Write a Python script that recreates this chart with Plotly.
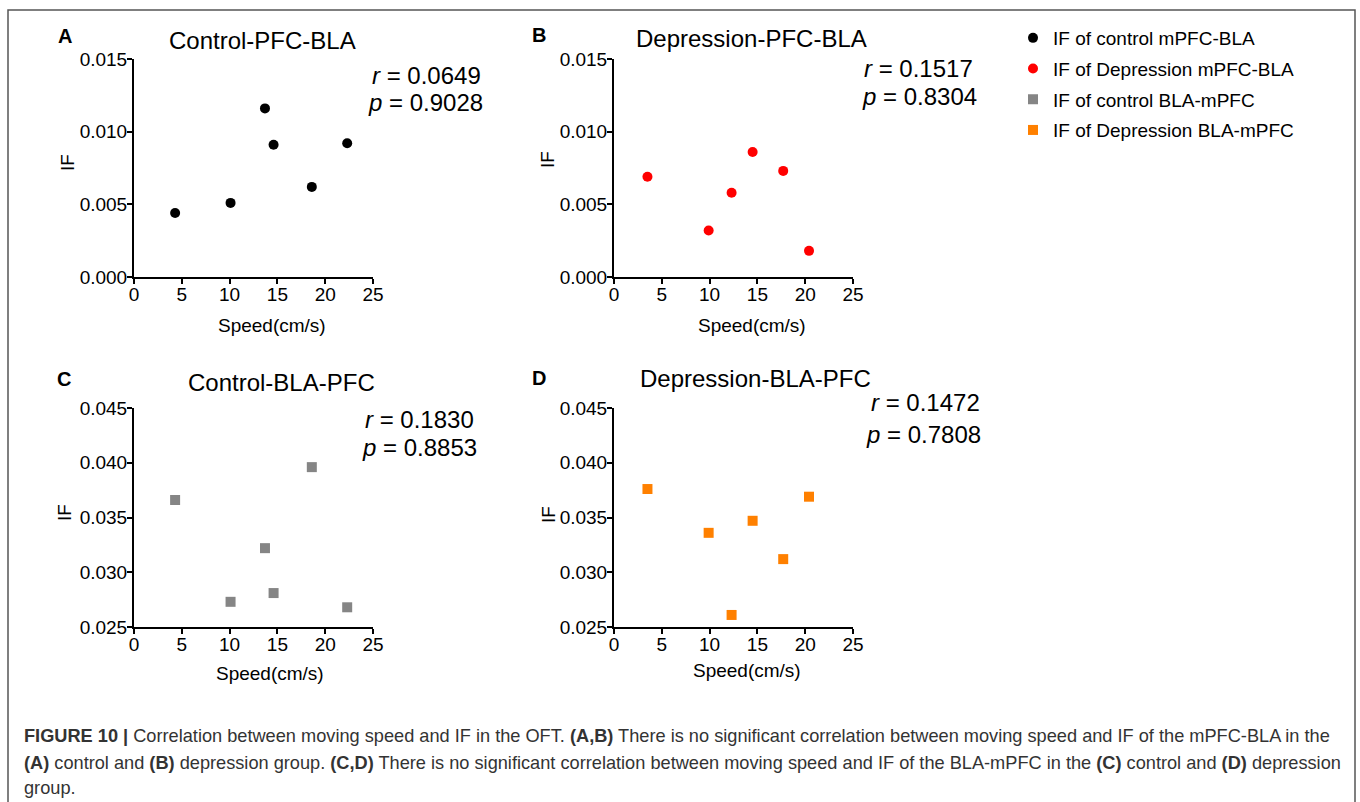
import plotly.graph_objects as go

# ---------------- data ----------------
ctrl_speed = [4.3, 10.1, 13.7, 14.6, 18.6, 22.3]
ctrl_pfc_bla = [0.0044, 0.0051, 0.0116, 0.0091, 0.0062, 0.0092]
ctrl_bla_pfc = [0.0366, 0.0273, 0.0322, 0.0281, 0.0396, 0.0268]

dep_speed = [3.5, 9.9, 12.3, 14.5, 17.7, 20.4]
dep_pfc_bla = [0.0069, 0.0032, 0.0058, 0.0086, 0.0073, 0.0018]
dep_bla_pfc = [0.0376, 0.0336, 0.0261, 0.0347, 0.0312, 0.0369]

panel_titles = ["Control-PFC-BLA", "Depression-PFC-BLA", "Control-BLA-PFC", "Depression-BLA-PFC"]
panel_letters = ["A", "B", "C", "D"]
r_values = ["0.0649", "0.1517", "0.1830", "0.1472"]
p_values = ["0.9028", "0.8304", "0.8853", "0.7808"]
legend_names = ["IF of control mPFC-BLA", "IF of Depression mPFC-BLA",
                "IF of control BLA-mPFC", "IF of Depression BLA-mPFC"]
x_ticks = [0, 5, 10, 15, 20, 25]
y_ticks_top = [0.000, 0.005, 0.010, 0.015]
y_ticks_bottom = [0.025, 0.030, 0.035, 0.040, 0.045]

caption_lines = [
    "<b>FIGURE 10 |</b> Correlation between moving speed and IF in the OFT. <b>(A,B)</b> There is no significant correlation between moving speed and IF of the mPFC-BLA in the",
    "<b>(A)</b> control and <b>(B)</b> depression group. <b>(C,D)</b> There is no significant correlation between moving speed and IF of the BLA-mPFC in the <b>(C)</b> control and <b>(D)</b> depression",
    "group.",
]

# ---------------- layout helpers ----------------
W, H = 1360, 802
FONT = "Liberation Sans, Arial, sans-serif"


def px(x):
    return x / W


def py(y):
    return 1 - y / H


colors = ["#000000", "#ff0000", "#858585", "#ff8000"]
symbols = ["circle", "circle", "square", "square"]

# panel pixel boxes: (left, right, top, bottom)
boxes = [(134, 373, 59, 277), (614, 853, 59, 277), (134, 373, 408, 627), (614, 853, 408, 627)]
xs = [ctrl_speed, dep_speed, ctrl_speed, dep_speed]
ys = [ctrl_pfc_bla, dep_pfc_bla, ctrl_bla_pfc, dep_bla_pfc]
yranges = [[0, 0.015], [0, 0.015], [0.025, 0.045], [0.025, 0.045]]
yticks = [y_ticks_top, y_ticks_top, y_ticks_bottom, y_ticks_bottom]

fig = go.Figure()
layout = dict(
    width=W, height=H, margin=dict(l=0, r=0, t=0, b=0, pad=0, autoexpand=False),
    paper_bgcolor="white", plot_bgcolor="white",
    font=dict(family=FONT, color="black", size=19),
    showlegend=True,
)

for i in range(4):
    sfx = "" if i == 0 else str(i + 1)
    l, r, t, b = boxes[i]
    axis_common = dict(showline=True, linecolor="black", linewidth=2, ticks="outside",
                       ticklen=5, tickwidth=2, tickcolor="black", showgrid=False,
                       zeroline=False, automargin=False,
                       tickfont=dict(size=19, family=FONT, color="black"))
    layout["xaxis" + sfx] = dict(domain=[px(l), px(r)], range=[0, 25], tickvals=x_ticks,
                                 anchor="y" + sfx, ticklabelstandoff=-6, **axis_common)
    layout["yaxis" + sfx] = dict(domain=[py(b), py(t)], range=yranges[i], tickvals=yticks[i],
                                 tickformat=".3f", anchor="x" + sfx, ticklabelstandoff=-4,
                                 **axis_common)
    fig.add_trace(go.Scatter(
        x=xs[i], y=ys[i], mode="markers", name=legend_names[i],
        legendgroup="g" + str(i),
        marker=dict(color=colors[i], size=10, symbol=symbols[i],
                    line=dict(width=0)),
        xaxis="x" + sfx, yaxis="y" + sfx, cliponaxis=False,
    ))

layout["legend"] = dict(x=px(1013), y=py(19), xanchor="left", yanchor="top",
                        font=dict(size=19, family=FONT, color="black"),
                        tracegroupgap=3, bgcolor="rgba(0,0,0,0)", traceorder="grouped")

ann = []
# positions (pixels)
letter_pos = [(65, 36), (539, 35), (64, 379), (539, 378)]
title_pos = [(262, 40), (751, 38), (281, 383), (755, 378)]
r_pos = [(483, 75), (975, 68), (476, 419), (982, 403)]
p_pos = [(485, 103), (979, 97), (479, 448), (983, 434)]
xt_pos = [(272, 325), (752, 325), (270, 673), (747, 670)]
yt_pos = [(68, 163), (547, 160), (64, 513), (548, 515)]

for i in range(4):
    ann.append(dict(x=px(letter_pos[i][0]), y=py(letter_pos[i][1]), xref="paper", yref="paper",
                    text="<b>" + panel_letters[i] + "</b>", showarrow=False,
                    font=dict(size=20, family=FONT, color="black"), xanchor="center", yanchor="middle"))
    ann.append(dict(x=px(title_pos[i][0]), y=py(title_pos[i][1]), xref="paper", yref="paper",
                    text=panel_titles[i], showarrow=False,
                    font=dict(size=24, family=FONT, color="black"), xanchor="center", yanchor="middle"))
    ann.append(dict(x=px(r_pos[i][0]), y=py(r_pos[i][1]), xref="paper", yref="paper",
                    text="<i>r</i> = " + r_values[i], showarrow=False,
                    font=dict(size=24, family=FONT, color="black"), xanchor="right", yanchor="middle"))
    ann.append(dict(x=px(p_pos[i][0]), y=py(p_pos[i][1]), xref="paper", yref="paper",
                    text="<i>p</i> = " + p_values[i], showarrow=False,
                    font=dict(size=24, family=FONT, color="black"), xanchor="right", yanchor="middle"))
    ann.append(dict(x=px(xt_pos[i][0]), y=py(xt_pos[i][1]), xref="paper", yref="paper",
                    text="Speed(cm/s)", showarrow=False,
                    font=dict(size=19, family=FONT, color="black"), xanchor="center", yanchor="middle"))
    ann.append(dict(x=px(yt_pos[i][0]), y=py(yt_pos[i][1]), xref="paper", yref="paper",
                    text="IF", showarrow=False, textangle=-90,
                    font=dict(size=19, family=FONT, color="black"), xanchor="center", yanchor="middle"))

cap_y = [736, 763, 788]
for j, line in enumerate(caption_lines):
    ann.append(dict(x=px(22), y=py(cap_y[j]), xref="paper", yref="paper", text=line,
                    showarrow=False, xanchor="left", yanchor="middle",
                    font=dict(size=18.2, family=FONT, color="#333333")))

layout["annotations"] = ann
layout["shapes"] = [dict(type="path", xref="paper", yref="paper",
                         path=f"M {px(8)},0 L {px(8)},{py(10)} L {px(1355)},{py(10)} L {px(1355)},0",
                         line=dict(color="#555555", width=1.5))]

fig.update_layout(**layout)
fig.write_html("out.html", config={"displayModeBar": False},
               post_script="document.body.style.margin='0px';document.body.style.overflow='hidden';")
